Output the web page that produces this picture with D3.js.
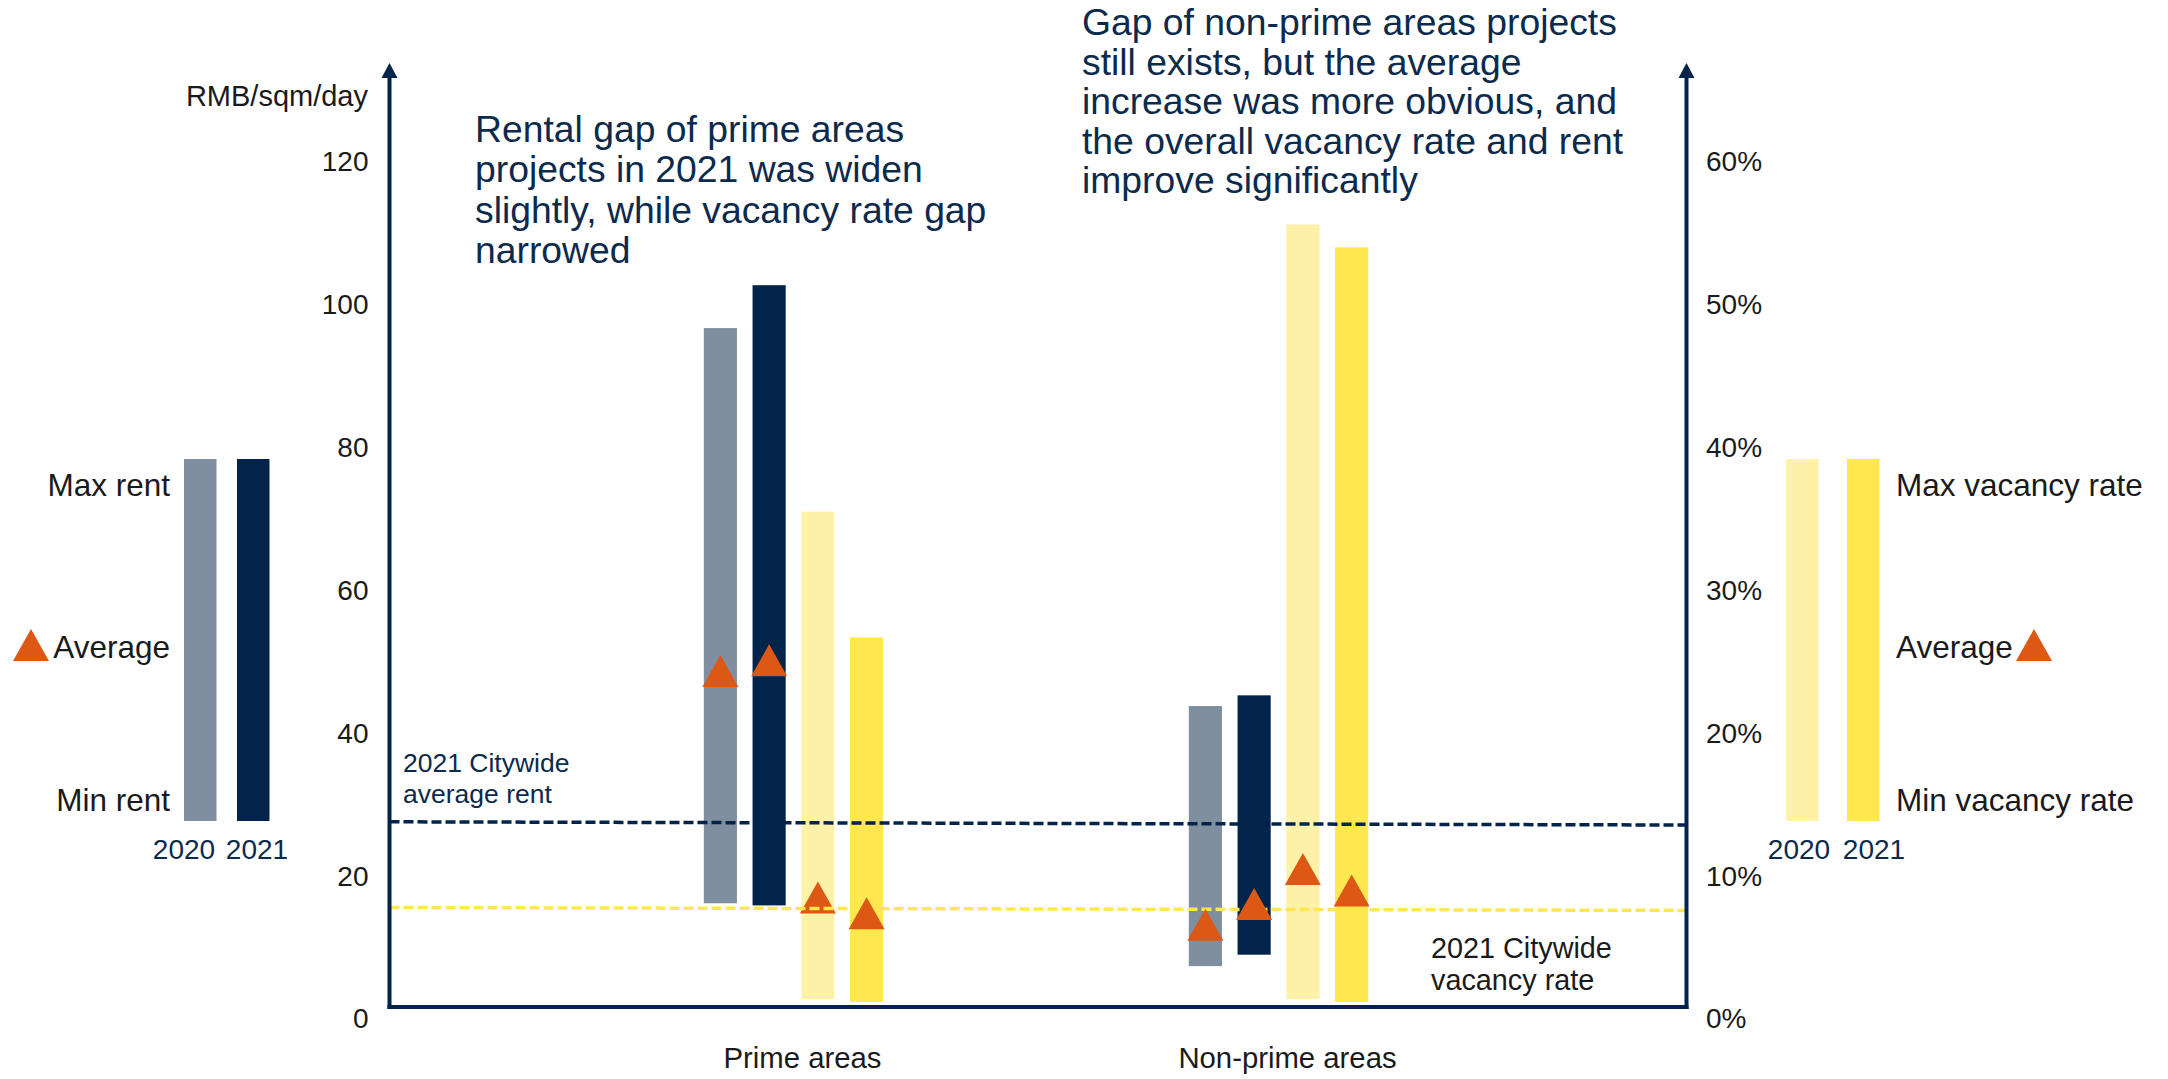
<!DOCTYPE html>
<html>
<head>
<meta charset="utf-8">
<script src="https://cdn.jsdelivr.net/npm/d3@7"></script>
<style>
  html, body { margin: 0; padding: 0; background: #ffffff; }
  svg { display: block; font-family: "Liberation Sans", Arial, Helvetica, sans-serif; }
</style>
</head>
<body>
<svg id="chart" width="2168" height="1079"></svg>
<script>
// ---- data -------------------------------------------------------------
const categories = ["Prime areas", "Non-prime areas"];
const seriesKeys = ["rent2020", "rent2021", "vac2020", "vac2021"];

// rent ranges, RMB/sqm/day
const rentMin2020 = [16.2, 7.4];
const rentMax2020 = [96.7, 43.8];
const rentAvg2020 = [48.7, 13.2];
const rentMin2021 = [15.9, 9.0];
const rentMax2021 = [102.7, 45.3];
const rentAvg2021 = [50.2, 16.1];

// vacancy ranges, share of space
const vacMin2020 = [0.014, 0.014];
const vacMax2020 = [0.355, 0.556];
const vacAvg2020 = [0.085, 0.105];
const vacMin2021 = [0.012, 0.012];
const vacMax2021 = [0.267, 0.540];
const vacAvg2021 = [0.074, 0.090];

// citywide reference lines (left end, right end)
const citywideRent2021 = [27.6, 27.15];
const citywideVacancy2021 = [0.078, 0.076];

const rentTicks = [0, 20, 40, 60, 80, 100, 120];
const vacancyTicks = [0, 0.1, 0.2, 0.3, 0.4, 0.5, 0.6];
const yearLabels = ["2020", "2021"];

const annotationPrime = [
  "Rental gap of prime areas",
  "projects in 2021 was widen",
  "slightly, while vacancy rate gap",
  "narrowed"
];
const annotationNonPrime = [
  "Gap of non-prime areas projects",
  "still exists, but the average",
  "increase was more obvious, and",
  "the overall vacancy rate and rent",
  "improve significantly"
];

// ---- styles -----------------------------------------------------------
const NAVY = "#02234a";
const GREY = "#7f8f9f";
const PALE_YELLOW = "#fff2a8";
const YELLOW = "#ffe74f";
const ORANGE = "#dd5814";
const TEXT = "#1a1a1a";
const NOTE = "#0c2a4c";

const colorOf = {rent2020: GREY, rent2021: NAVY, vac2020: PALE_YELLOW, vac2021: YELLOW};

// ---- layout -----------------------------------------------------------
const svg = d3.select("#chart");
const axisLeftX = 389.5, axisRightX = 1686.5, axisTop = 63, baseY = 1007;

const yRent = d3.scaleLinear().domain([0, 120]).range([1019, 161.6]);
const yVac = d3.scaleLinear().domain([0, 0.6]).range([1019, 161.6]);

const xCat = d3.scaleBand().domain(categories).range([560, 1530]);
const xSeries = d3.scaleBand().domain(seriesKeys).range([-97.5, 97.5])
  .paddingInner(0.32).paddingOuter(0.16);
const groupShift = -9;

const rows = [];
categories.forEach((c, i) => {
  rows.push({cat: c, key: "rent2020", lo: rentMin2020[i], hi: rentMax2020[i], avg: rentAvg2020[i], y: yRent});
  rows.push({cat: c, key: "rent2021", lo: rentMin2021[i], hi: rentMax2021[i], avg: rentAvg2021[i], y: yRent});
  rows.push({cat: c, key: "vac2020", lo: vacMin2020[i], hi: vacMax2020[i], avg: vacAvg2020[i], y: yVac});
  rows.push({cat: c, key: "vac2021", lo: vacMin2021[i], hi: vacMax2021[i], avg: vacAvg2021[i], y: yVac});
});
const barX = d => xCat(d.cat) + xCat.bandwidth() / 2 + groupShift + xSeries(d.key);
const barMid = d => barX(d) + xSeries.bandwidth() / 2;

// average marker: triangle centred on its value
const triangle = "M0,-16L18,16L-18,16Z";

// ---- range bars -------------------------------------------------------
svg.append("g").selectAll("rect").data(rows).join("rect")
  .attr("x", barX)
  .attr("width", xSeries.bandwidth())
  .attr("y", d => d.y(d.hi))
  .attr("height", d => d.y(d.lo) - d.y(d.hi))
  .attr("fill", d => colorOf[d.key]);

// 2020 vacancy averages sit beneath the reference lines
svg.append("g").selectAll("path").data(rows.filter(d => d.key === "vac2020")).join("path")
  .attr("d", triangle)
  .attr("transform", d => `translate(${barMid(d)},${d.y(d.avg)})`)
  .attr("fill", ORANGE);

// ---- citywide reference lines -----------------------------------------
svg.append("line")
  .attr("x1", axisLeftX).attr("x2", axisRightX)
  .attr("y1", yRent(citywideRent2021[0])).attr("y2", yRent(citywideRent2021[1]))
  .attr("stroke", NAVY).attr("stroke-width", 3.5).attr("stroke-dasharray", "10,4");
svg.append("line")
  .attr("x1", axisLeftX).attr("x2", axisRightX)
  .attr("y1", yVac(citywideVacancy2021[0])).attr("y2", yVac(citywideVacancy2021[1]))
  .attr("stroke", YELLOW).attr("stroke-width", 3.5).attr("stroke-dasharray", "10,4");

svg.append("g").selectAll("path").data(rows.filter(d => d.key !== "vac2020")).join("path")
  .attr("d", triangle)
  .attr("transform", d => `translate(${barMid(d)},${d.y(d.avg)})`)
  .attr("fill", ORANGE);

// ---- axes -------------------------------------------------------------
const leftAxis = svg.append("g").attr("transform", `translate(${axisLeftX},0)`)
  .call(d3.axisLeft(yRent).tickValues(rentTicks).tickSize(0).tickPadding(21));
const rightAxis = svg.append("g").attr("transform", `translate(${axisRightX},0)`)
  .call(d3.axisRight(yVac).tickValues(vacancyTicks).tickFormat(d3.format(".0%")).tickSize(0).tickPadding(19.5));
[leftAxis, rightAxis].forEach(g => {
  g.select(".domain").remove();
  g.selectAll("text").attr("font-size", 28).attr("fill", TEXT)
    .attr("font-family", "'Liberation Sans', Arial, sans-serif");
});

// arrowed vertical axes and base line
[axisLeftX, axisRightX].forEach(x => {
  svg.append("line").attr("x1", x).attr("x2", x).attr("y1", axisTop + 14).attr("y2", baseY + 2)
    .attr("stroke", NAVY).attr("stroke-width", 4);
  svg.append("path")
    .attr("d", `M${x},${axisTop}L${x + 8},${axisTop + 15}L${x - 8},${axisTop + 15}Z`)
    .attr("fill", NAVY);
});
svg.append("line").attr("x1", axisLeftX - 2).attr("x2", axisRightX + 2)
  .attr("y1", baseY).attr("y2", baseY)
  .attr("stroke", NAVY).attr("stroke-width", 4);

svg.append("text").attr("x", 368).attr("y", 105.5).attr("text-anchor", "end")
  .attr("font-size", 29).attr("fill", TEXT).text("RMB/sqm/day");

// category labels
svg.append("g").selectAll("text").data(categories).join("text")
  .attr("x", d => xCat(d) + xCat.bandwidth() / 2)
  .attr("y", 1068)
  .attr("text-anchor", "middle")
  .attr("font-size", 29.3).attr("fill", TEXT)
  .text(d => d);

// reference line captions
const capRent = svg.append("text").attr("font-size", 26.5).attr("fill", NOTE);
["2021 Citywide", "average rent"].forEach((t, i) =>
  capRent.append("tspan").attr("x", 403).attr("y", 772 + i * 30.5).text(t));
const capVac = svg.append("text").attr("font-size", 28.8).attr("fill", TEXT);
["2021 Citywide", "vacancy rate"].forEach((t, i) =>
  capVac.append("tspan").attr("x", 1431).attr("y", 958 + i * 31.5).text(t));

// annotations
const noteA = svg.append("text").attr("font-size", 37.3).attr("fill", NOTE);
annotationPrime.forEach((t, i) =>
  noteA.append("tspan").attr("x", 475).attr("y", 141.5 + i * 40.5).text(t));
const noteB = svg.append("text").attr("font-size", 37.3).attr("fill", NOTE);
annotationNonPrime.forEach((t, i) =>
  noteB.append("tspan").attr("x", 1082).attr("y", 35 + i * 39.6).text(t));

// ---- legends ----------------------------------------------------------
const legendTop = 459, legendBottom = 821;
function legendBars(xs, colors) {
  xs.forEach((x, i) => {
    svg.append("rect").attr("x", x).attr("y", legendTop).attr("width", 32.5)
      .attr("height", legendBottom - legendTop).attr("fill", colors[i]);
  });
}
function yearText(centers) {
  centers.forEach((cx, i) => {
    svg.append("text").attr("x", cx).attr("y", 859).attr("text-anchor", "middle")
      .attr("font-size", 28).attr("fill", NOTE).text(yearLabels[i]);
  });
}

// rent legend
legendBars([184, 237], [GREY, NAVY]);
yearText([184, 257]);
[["Max rent", 496], ["Average", 658], ["Min rent", 811]].forEach(([t, y]) =>
  svg.append("text").attr("x", 170).attr("y", y).attr("text-anchor", "end")
    .attr("font-size", 31.5).attr("fill", TEXT).text(t));
svg.append("path").attr("d", triangle).attr("transform", "translate(31,645)").attr("fill", ORANGE);

// vacancy legend
legendBars([1786, 1847], [PALE_YELLOW, YELLOW]);
yearText([1799, 1874]);
[["Max vacancy rate", 496], ["Average", 658], ["Min vacancy rate", 811]].forEach(([t, y]) =>
  svg.append("text").attr("x", 1896).attr("y", y)
    .attr("font-size", 31.5).attr("fill", TEXT).text(t));
svg.append("path").attr("d", triangle).attr("transform", "translate(2034,645)").attr("fill", ORANGE);
</script>
</body>
</html>
